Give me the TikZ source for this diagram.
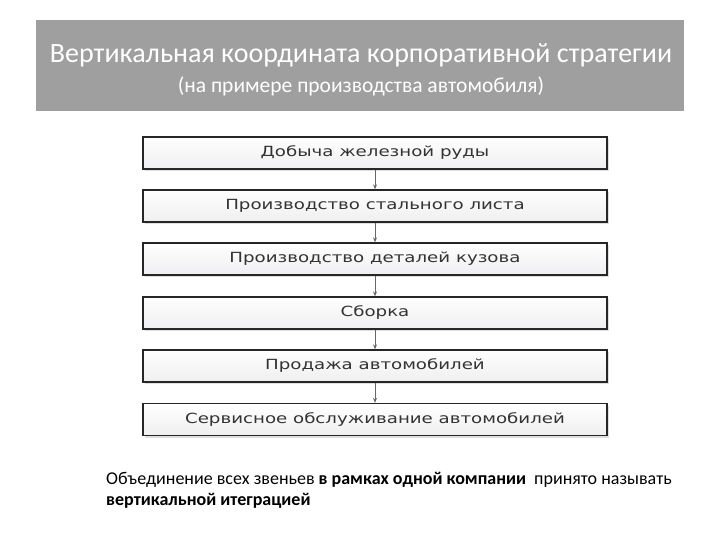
\documentclass[tikz,border=0pt]{standalone}
\usepackage{fontspec}
\usetikzlibrary{shadows,arrows.meta}
\setmainfont{Carlito}
\newfontfamily\boxfont[FakeStretch=1.3]{DejaVu Sans}
\begin{document}
\begin{tikzpicture}[x=1pt,y=-1pt,
  stepbox/.style={draw=black!85,line width=1.3pt,minimum width=464pt,minimum height=32pt,
    top color=white,bottom color=blue!6!gray!12,font=\boxfont\fontsize{14}{15}\selectfont,
    text=black!80,inner sep=0pt,drop shadow={shadow xshift=2pt,shadow yshift=-2pt,fill=gray!50}},
  arr/.style={-{Stealth[length=5pt,width=4pt]},draw=black!60,line width=0.8pt}]
\useasboundingbox (0,0) rectangle (720,540);
\fill[gray!75!white] (36,20) rectangle (684,111);
\node[text=white,font=\fontsize{28}{32}\selectfont] (t1) at (361,55) {Вертикальная координата корпоративной стратегии};
\node[text=white,font=\fontsize{21.5}{24}\selectfont] (t2) at (361,86) {(на примере производства автомобиля)};
\node[stepbox] (b1) at (375,153) {Добыча железной руды};
\node[stepbox] (b2) at (375,206) {Производство стального листа};
\node[stepbox] (b3) at (375,259) {Производство деталей кузова};
\node[stepbox] (b4) at (375,313) {Сборка};
\node[stepbox] (b5) at (375,366) {Продажа автомобилей};
\node[stepbox] (b6) at (375,419.5) {Сервисное обслуживание автомобилей};
\foreach \a/\b in {b1/b2,b2/b3,b3/b4,b4/b5,b5/b6} \draw[arr] (\a) -- (\b);
\node[anchor=north west,align=left,font=\fontsize{18}{21}\selectfont,inner sep=0pt] (txt) at (106,472)
 {Объединение всех звеньев \textbf{в рамках одной компании} \ принято называть\\ \textbf{вертикальной итеграцией}};
\end{tikzpicture}
\end{document}
